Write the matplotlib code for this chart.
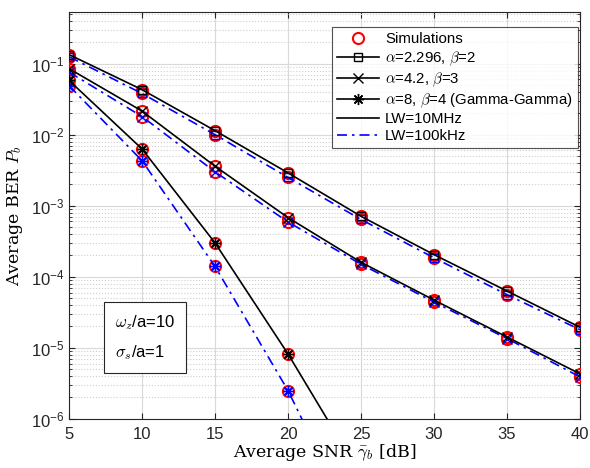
import matplotlib
matplotlib.use("Agg")
import matplotlib.pyplot as plt
import numpy as np
from matplotlib.lines import Line2D
from matplotlib.ticker import LogLocator, NullFormatter

plt.rcParams['font.family'] = ['Liberation Sans', 'DejaVu Sans']
plt.rcParams['mathtext.fontset'] = 'cm'

snr = [5, 10, 15, 20, 25, 30, 35, 40]

# alpha=2.296, beta=2
ber1_10M = [0.134, 0.043, 0.0114, 0.0029, 7.1e-4, 2.05e-4, 6.3e-5, 1.95e-5]
ber1_100k = [0.125, 0.038, 0.0100, 0.0025, 6.4e-4, 1.85e-4, 5.6e-5, 1.8e-5]
# alpha=4.2, beta=3
ber2_10M = [0.085, 0.0215, 0.0036, 6.8e-4, 1.6e-4, 4.7e-5, 1.42e-5, 4.3e-6]
ber2_100k = [0.076, 0.018, 0.0030, 5.9e-4, 1.5e-4, 4.4e-5, 1.35e-5, 3.9e-6]
# alpha=8, beta=4 (Gamma-Gamma)
snr3 = [5, 10, 15, 20, 25]
ber3_10M = [0.058, 0.0063, 3.0e-4, 8.2e-6, 1.6e-7]
ber3_100k = [0.049, 0.0043, 1.4e-4, 2.5e-6, 2.0e-8]

fig = plt.figure(figsize=(5.9, 4.68), dpi=100)
ax = fig.add_axes([0.117, 0.105, 0.866, 0.869])

red = (1, 0, 0)
blue = (0, 0, 1)
asterisk = (8, 2, 0)
dashdot = (0, (6, 3, 1.5, 3))

# simulations
for x, y in [(snr, ber1_10M), (snr, ber1_100k), (snr, ber2_10M), (snr, ber2_100k),
             (snr3, ber3_10M), (snr3, ber3_100k)]:
    ax.plot(x, y, 'o', mfc='none', mec=red, ms=8, mew=1.5, ls='none', zorder=3)

# LW = 100 kHz (blue dash-dot)
ax.plot(snr, ber1_100k, color=blue, ls=dashdot, lw=1.2, marker='s', mfc='none', mec=blue, ms=6, zorder=4)
ax.plot(snr, ber2_100k, color=blue, ls=dashdot, lw=1.2, marker='x', mec=blue, ms=7, zorder=4)
ax.plot(snr3, ber3_100k, color=blue, ls=dashdot, lw=1.2, marker=asterisk, mec=blue, ms=8, zorder=4)

# LW = 10 MHz (black solid)
ax.plot(snr, ber1_10M, color='k', ls='-', lw=1.2, marker='s', mfc='none', mec='k', ms=6, zorder=5)
ax.plot(snr, ber2_10M, color='k', ls='-', lw=1.2, marker='x', mec='k', ms=7, zorder=5)
ax.plot(snr3, ber3_10M, color='k', ls='-', lw=1.2, marker=asterisk, mec='k', ms=8, zorder=5)

ax.set_yscale('log')
ax.set_xlim(5, 40)
ax.set_ylim(1e-6, 0.53)
ax.set_xticks([5, 10, 15, 20, 25, 30, 35, 40])
ax.yaxis.set_major_locator(LogLocator(base=10, numticks=10))
ax.yaxis.set_minor_locator(LogLocator(base=10, subs=np.arange(2, 10), numticks=20))
ax.yaxis.set_minor_formatter(NullFormatter())

ax.grid(True, which='major', color='#d9d9d9', lw=0.8, ls='-')
ax.grid(True, which='minor', axis='y', color='#cfcfcf', lw=0.8, ls=':')
ax.set_axisbelow(True)

ax.tick_params(which='both', direction='in', top=True, right=True, labelsize=12, colors='#262626')
ax.tick_params(which='major', length=4)
ax.tick_params(which='minor', length=2)
ax.tick_params(axis='x', pad=6)
for s in ax.spines.values():
    s.set_color('#262626')
    s.set_linewidth(0.8)

ax.set_xlabel(r'Average SNR $\bar{\gamma}_b$ [dB]', fontsize=12.5, labelpad=0)
ax.set_ylabel(r'Average BER $P_b$', fontsize=12.5, labelpad=4)
for lab in [ax.xaxis.label, ax.yaxis.label]:
    lab.set_fontfamily(['DejaVu Serif'])

handles = [
    Line2D([], [], ls='none', marker='o', mfc='none', mec=red, ms=8, mew=1.5),
    Line2D([], [], color='k', lw=1.2, marker='s', mfc='none', mec='k', ms=6),
    Line2D([], [], color='k', lw=1.2, marker='x', mec='k', ms=7),
    Line2D([], [], color='k', lw=1.2, marker=asterisk, mec='k', ms=8),
    Line2D([], [], color='k', lw=1.2),
    Line2D([], [], color=blue, lw=1.2, ls=dashdot),
]
labels = ['Simulations',
          r'$\alpha$=2.296, $\beta$=2',
          r'$\alpha$=4.2, $\beta$=3',
          r'$\alpha$=8, $\beta$=4 (Gamma-Gamma)',
          'LW=10MHz',
          'LW=100kHz']
leg = ax.legend(handles, labels, loc='upper right', bbox_to_anchor=(0.996, 0.963),
                borderaxespad=0, fontsize=10.8, frameon=True, fancybox=False,
                edgecolor='#262626', handlelength=2.8, handletextpad=0.4,
                labelspacing=0.18, borderpad=0.35)
leg.get_frame().set_linewidth(0.8)
leg.set_zorder(10)

ax.text(0.09, 0.2, '$\\omega_z$/a=10\n$\\sigma_s$/a=1', transform=ax.transAxes,
        fontsize=12, va='center', ha='left', linespacing=1.8, zorder=10,
        bbox=dict(boxstyle='square,pad=0.65', fc='white', ec='#262626', lw=0.8))

fig.savefig('out.png', dpi=100)
